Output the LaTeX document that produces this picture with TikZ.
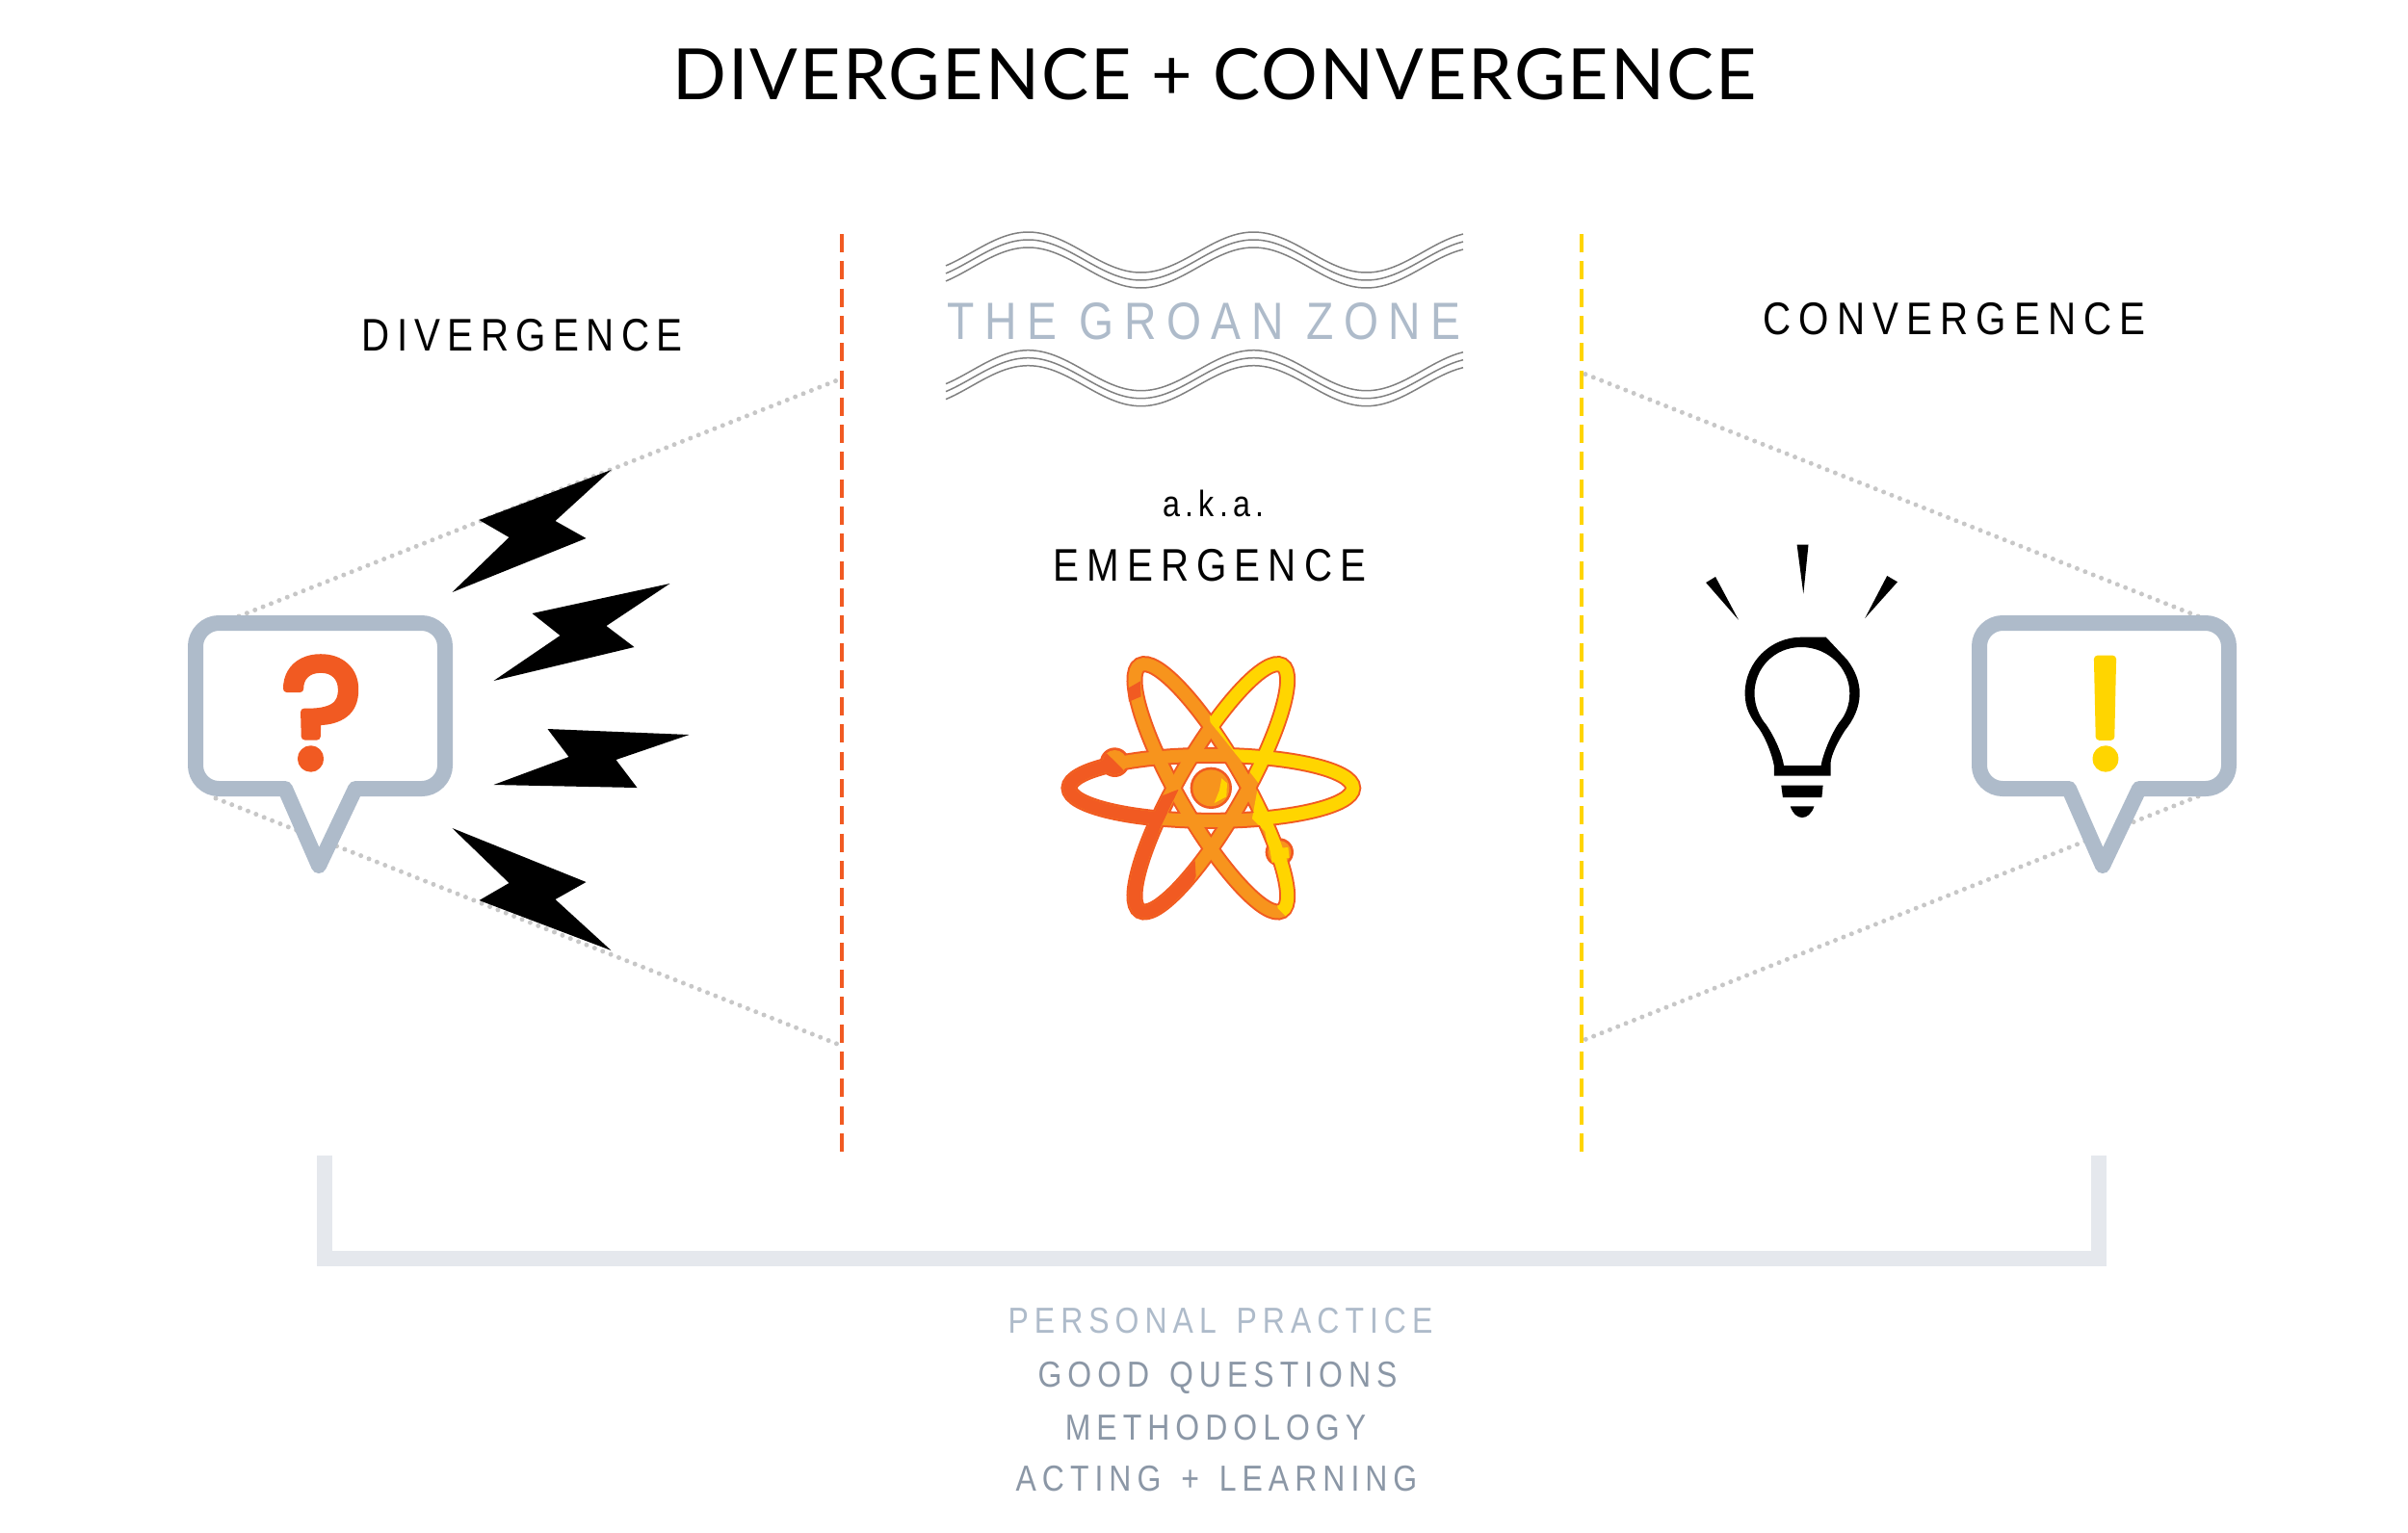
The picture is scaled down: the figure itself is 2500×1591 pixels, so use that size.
\documentclass[tikz,border=0pt]{standalone}
\usepackage{fontspec}
\usepackage{xcolor}
\newfontfamily\titlefont[LetterSpace=2.8]{Lato}
\newfontfamily\labelfont[FakeStretch=0.85,LetterSpace=17]{Liberation Sans}
\newfontfamily\practicefont[FakeStretch=0.85,LetterSpace=16,WordSpace=1.4]{Liberation Sans}
\newfontfamily\groanfont[FakeStretch=0.85,LetterSpace=19.5]{Liberation Sans}
\newfontfamily\markfont[FakeBold=4.5]{Poppins}

\definecolor{flame}{HTML}{F15A22}
\definecolor{amber}{HTML}{F7941D}
\definecolor{sun}{HTML}{FFD500}
\definecolor{slate}{HTML}{AEBBCA}
\definecolor{slatedark}{HTML}{8B97A6}
\definecolor{bracketgray}{HTML}{E5E8ED}

\tikzset{
  heading/.style={anchor=base,inner sep=0pt,font=\labelfont\fontsize{13.5}{16}\selectfont},
  practice/.style={anchor=base,inner sep=0pt,text=slatedark,font=\practicefont\fontsize{10.7}{13}\selectfont},
  bubble/.style={draw=slate,fill=white,line width=1.6mm,line join=round},
  bubblemark/.style={anchor=base,inner sep=0pt,line join=round,font=\markfont\fontsize{46}{50}\selectfont},
  bolt/.style={fill=black},
  sightline/.style={draw=black!22,line width=0.5mm,line cap=round,dash pattern=on 0pt off 0.9mm},
  divider/.style={line width=0.45mm,dash pattern=on 1.9mm off 0.93mm},
  wave/.style={draw=black!50,line width=0.15mm},
  ringedge/.style={draw=flame,line width=1.7mm},
  ringfill/.style={line width=1.3mm}
}

\begin{document}
\begin{tikzpicture}[x=0.1mm,y=-0.1mm]
\useasboundingbox (0,0) rectangle (2500,1591);

% sight lines
\coordinate (qtop) at (248,640);
\coordinate (qbot) at (224,829);
\coordinate (etop) at (2282,640);
\coordinate (ebot) at (2282,827);
\coordinate (orangetop) at (874,393);
\coordinate (orangebot) at (874,1086);
\coordinate (yellowtop) at (1642,387);
\coordinate (yellowbot) at (1642,1081);
\draw[sightline] (qtop)--(orangetop);
\draw[sightline] (qbot)--(orangebot);
\draw[sightline] (etop)--(yellowtop);
\draw[sightline] (ebot)--(yellowbot);

% dashed dividers
\coordinate (orangehi) at (874,243);
\coordinate (orangelo) at (874,1197);
\coordinate (yellowhi) at (1642,243);
\coordinate (yellowlo) at (1642,1197);
\draw[divider,flame] (orangehi)--(orangelo);
\draw[divider,sun] (yellowhi)--(yellowlo);

% speech bubbles
\begin{scope}
\draw[bubble] (227,647)--(438,647) .. controls (451,647) and (462,658) .. (462,671)--(462,795) .. controls (462,808) and (451,819) .. (438,819)--(369,819)--(331,899)--(296,819)--(227,819) .. controls (214,819) and (203,808) .. (203,795)--(203,671) .. controls (203,658) and (214,647) .. (227,647)--cycle;
\node[bubblemark,text=flame] (question) at (334,797) {?};
\end{scope}

\begin{scope}[xshift=18.52cm]
\draw[bubble] (227,647)--(438,647) .. controls (451,647) and (462,658) .. (462,671)--(462,795) .. controls (462,808) and (451,819) .. (438,819)--(369,819)--(331,899)--(296,819)--(227,819) .. controls (214,819) and (203,808) .. (203,795)--(203,671) .. controls (203,658) and (214,647) .. (227,647)--cycle;
\node[bubblemark,text=sun] (exclaim) at (334,797) {!};
\end{scope}

% lightning
\begin{scope}[xshift=-0.015cm]
\fill[bolt] (636,488)--(578,541)--(610,559)--(471,615)--(530,558)--(499,540)--cycle;
\fill[bolt] (697,606)--(631,650)--(660,672)--(514,707)--(583,660)--(554,637)--cycle;
\fill[bolt] (717,763)--(641,789)--(663,818)--(514,815)--(592,786)--(570,757)--cycle;
\fill[bolt] (471,860)--(530,917)--(499,935)--(636,987)--(578,934)--(610,916)--cycle;
\end{scope}

% groan zone waves
\foreach \off in {0,122.7}{
  \foreach \lay in {0,8,16}{
    \draw[wave] plot[domain=982:1519,samples=90,smooth] (\x,{262+\off+\lay-21*cos(1.53846*(\x-1067.5))});
  }
}

% atom
\begin{scope}[shift={(1050,650)},scale=0.3333]
\foreach \ang in {0,60,120}{
  \draw[ringedge,rotate around={\ang:(622,505)}] (622,505) ellipse [x radius=442,y radius=102];
}
\fill[flame] (322,425) circle [radius=46];
\fill[flame] (835,705) circle [radius=44];
\fill[flame] (622,505) circle [radius=65];
\begin{scope}[ringfill,amber]
\foreach \ang in {0,60,120}{
  \draw[rotate around={\ang:(622,505)}] (622,505) ellipse [x radius=442,y radius=102];
}
\fill (322,425) circle [radius=38];
\fill (835,705) circle [radius=36];
\fill (622,505) circle [radius=57];
\end{scope}
% yellow side
\begin{scope}
\clip (600,60)--(900,60)--(1150,300)--(1150,700)--(900,950)--(830,880)--(790,640)--(750,600)--(770,490)--(700,400)--(620,300)--cycle;
\foreach \ang in {0,60,120}{
  \draw[ringfill,sun,rotate around={\ang:(622,505)}] (622,505) ellipse [x radius=442,y radius=102];
}
\end{scope}
\fill[sun] (805,695)--(862,690)--(866,722)--(812,738)--cycle;
\fill[sun] (655,475)--(672,490)--(670,532)--(632,552)--(648,512)--cycle;
% flame side
\begin{scope}
\clip (100,250)--(280,380)--(350,450)--(440,540)--(520,510)--(470,615)--(460,640)--(570,700)--(575,780)--(500,960)--(100,960)--cycle;
\foreach \ang in {0,60,120}{
  \draw[ringfill,flame,rotate around={\ang:(622,505)}] (622,505) ellipse [x radius=442,y radius=102];
}
\fill[flame] (322,425) circle [radius=38];
\end{scope}
\fill[flame] (362,195)--(402,172)--(404,220)--(366,236)--cycle;
\end{scope}

% light bulb
\begin{scope}[xshift=-0.04cm]
\fill[even odd rule] (1899.7,661.7)--(1921.6,685) .. controls (1930,696) and (1934.7,708) .. (1934.7,720) .. controls (1934.7,735) and (1928,748) .. (1919.6,758.3) .. controls (1912,770) and (1904.5,785) .. (1904.5,793.3)--(1904.5,805.7)--(1845.8,805.7)--(1845.8,795) .. controls (1844,785) and (1838,768) .. (1830.3,756.7) .. controls (1821,745) and (1815.6,735) .. (1815.6,720) .. controls (1815.6,688) and (1842,661.7) .. (1874,661.7)--cycle
  (1874,672) .. controls (1902,672) and (1924.3,694) .. (1924.3,720) .. controls (1924.3,732) and (1920,743) .. (1913.6,750) .. controls (1905,762) and (1896,785) .. (1894.6,795)--(1856,795) .. controls (1854,782) and (1846,765) .. (1838.2,753.3) .. controls (1831,745) and (1825.5,733) .. (1825.5,720) .. controls (1825.5,694) and (1846,672) .. (1874,672)--cycle;
\fill (1853.3,815.7)--(1896.6,815.7)--(1895.4,828)--(1854.9,828)--cycle;
\fill (1862.8,837.3)--(1887.4,837.3) .. controls (1885,845) and (1880,849) .. (1875,849) .. controls (1870,849) and (1865,845) .. (1862.8,837.3)--cycle;
\fill (1869.6,565.7)--(1881.5,565.7)--(1876.3,616.7)--cycle;
\fill (1775.1,605)--(1785,599)--(1808.9,643.7)--cycle;
\fill (1963.2,598)--(1974,604.3)--(1940.2,642)--cycle;
\end{scope}

% bracket
\coordinate (brackl) at (337,1200);
\coordinate (brackr) at (2179,1200);
\draw[bracketgray,line width=1.6mm] (brackl)|-(1260,1307)-|(brackr);

% nodes
\node[anchor=base,inner sep=0pt,font=\titlefont\fontsize{20.9}{24}\selectfont] (title) at (1261,103) {DIVERGENCE + CONVERGENCE};
\node[heading] (divergence) at (542,364.5) {\addfontfeature{LetterSpace=15.5}DIVERGENCE};
\node[heading] (convergence) at (2029,347.5) {CONVERGENCE};
\node[anchor=base,inner sep=0pt,text=slate,font=\groanfont\fontsize{15.5}{18}\selectfont] (groan) at (1250,352) {THE GROAN ZONE};
\node[anchor=base,inner sep=0pt,font=\labelfont\addfontfeature{LetterSpace=13.5}\fontsize{10.8}{13}\selectfont] (aka) at (1260,536) {a.k.a.};
\node[heading] (emergence) at (1256,603.5) {EMERGENCE};
\node[practice,text=slate] (personal) at (1267,1384) {PERSONAL PRACTICE};
\node[practice] (questions) at (1264,1440) {GOOD QUESTIONS};
\node[practice] (method) at (1262,1495) {METHODOLOGY};
\node[practice] (acting) at (1263,1548) {ACTING + LEARNING};

\end{tikzpicture}
\end{document}
